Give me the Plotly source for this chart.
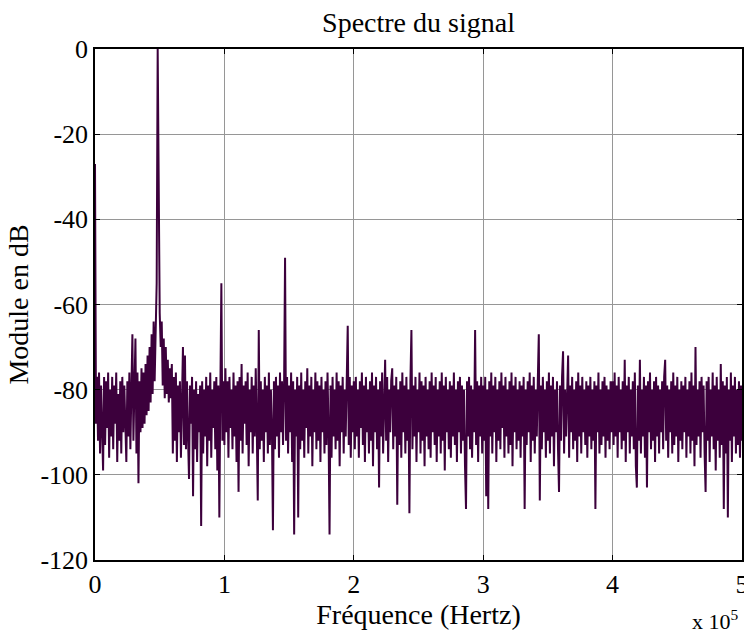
import numpy as np
import plotly.graph_objects as go

# FFT settings of the analysed signal
FS = 1.0e6          # sampling frequency (Hz)
NFFT = 1280         # FFT length -> bin spacing FS / NFFT

# Spectrum magnitude in dB, one list per 100 kHz band (bins 0-127, 128-255, ...)
band_0_100k = [
    -27, -88, -77, -92, -76, -95, -79, -90, -99, -77, -93, -78, -89, -76, -96, -80,
    -91, -77, -94, -79, -88, -76, -97, -81, -92, -78, -95, -77, -90, -79, -93, -97,
    -78, -91, -76, -94, -80, -67, -92, -77, -68, -95, -76, -102, -78, -90, -75, -89,
    -76, -88, -74, -86, -72, -85, -70, -83, -67, -81, -64, -78, -60, -55, 0, -48,
    -62, -70, -64, -79, -68, -82, -70, -81, -73, -83, -75, -82, -74, -95, -77, -92,
    -76, -97, -79, -90, -78, -96, -80, -70, -93, -72, -94, -78, -91, -101, -79, -88,
    -77, -105, -80, -94, -78, -97, -81, -90, -79, -112, -78, -95, -80, -91, -77, -98,
    -79, -92, -76, -96, -80, -89, -78, -94, -77, -99, -79, -110, -80, -55, -92, -78,
]
band_100_200k = [
    -93, -75, -90, -78, -96, -77, -89, -80, -94, -76, -91, -79, -97, -78, -104, -77,
    -92, -74, -95, -79, -88, -78, -93, -76, -98, -80, -90, -77, -95, -79, -91, -75,
    -89, -106, -66, -94, -78, -92, -80, -97, -77, -90, -79, -95, -76, -93, -80, -89,
    -113, -78, -94, -77, -91, -79, -96, -76, -90, -78, -93, -80, -49, -92, -77, -95,
    -79, -90, -76, -97, -78, -114, -80, -91, -77, -110, -79, -94, -76, -92, -80, -96,
    -78, -89, -75, -95, -79, -91, -77, -98, -80, -90, -76, -94, -78, -92, -79, -97,
    -77, -90, -80, -95, -78, -93, -76, -89, -114, -79, -96, -77, -91, -80, -94, -76,
    -92, -78, -98, -79, -90, -77, -95, -80, -91, -78, -65, -93, -77, -96, -79, -90,
]
band_200_300k = [
    -78, -94, -77, -91, -80, -96, -78, -89, -76, -93, -79, -97, -77, -90, -80, -95,
    -78, -92, -76, -98, -79, -90, -77, -94, -80, -103, -78, -91, -76, -95, -79, -73,
    -92, -77, -97, -80, -90, -78, -75, -94, -79, -91, -77, -107, -80, -93, -78, -96,
    -76, -90, -79, -95, -77, -92, -80, -109, -78, -66, -94, -79, -91, -77, -97, -80,
    -90, -76, -95, -78, -92, -79, -98, -77, -91, -80, -94, -78, -96, -76, -90, -79,
    -93, -77, -97, -80, -91, -78, -95, -76, -92, -79, -99, -77, -90, -80, -94, -78,
    -96, -79, -91, -76, -93, -80, -97, -78, -90, -77, -95, -79, -92, -80, -98, -108,
    -78, -91, -77, -94, -79, -96, -80, -90, -66, -93, -78, -97, -79, -91, -77, -95,
]
band_300_400k = [
    -79, -92, -77, -105, -80, -108, -78, -91, -76, -95, -79, -90, -77, -97, -80, -92,
    -78, -94, -76, -89, -79, -96, -77, -91, -80, -95, -78, -93, -76, -98, -79, -90,
    -77, -94, -80, -92, -78, -96, -79, -91, -77, -108, -80, -93, -78, -90, -76, -97,
    -79, -92, -77, -95, -80, -91, -78, -67, -106, -79, -94, -77, -90, -80, -96, -78,
    -92, -76, -95, -79, -91, -77, -98, -80, -90, -78, -94, -104, -79, -92, -77, -71,
    -95, -80, -91, -78, -72, -96, -79, -90, -77, -94, -80, -92, -78, -97, -76, -91,
    -79, -95, -77, -90, -80, -93, -78, -96, -79, -91, -77, -94, -80, -92, -78, -108,
    -79, -90, -76, -95, -80, -93, -78, -91, -77, -96, -79, -92, -80, -94, -78, -90,
]
band_400_500k = [
    -78, -93, -76, -91, -79, -96, -77, -90, -80, -94, -78, -92, -73, -97, -79, -90,
    -77, -95, -80, -91, -78, -94, -76, -98, -103, -79, -92, -73, -95, -80, -91, -77,
    -96, -79, -103, -78, -90, -76, -94, -80, -92, -78, -97, -77, -91, -79, -95, -80,
    -90, -78, -94, -77, -73, -92, -79, -96, -80, -90, -78, -95, -76, -93, -79, -91,
    -77, -97, -80, -92, -78, -94, -79, -90, -77, -96, -80, -91, -78, -95, -76, -92,
    -79, -98, -70, -93, -80, -91, -78, -96, -77, -90, -79, -95, -104, -78, -92, -77,
    -97, -80, -91, -76, -94, -79, -99, -77, -92, -80, -96, -74, -93, -78, -108, -79,
    -95, -77, -110, -80, -92, -76, -97, -79, -91, -77, -95, -80, -93, -78, -96, -79,
    -92,
]

x_tick_vals = [0, 1e5, 2e5, 3e5, 4e5, 5e5]
x_tick_text = ["0", "1", "2", "3", "4", "5"]
y_tick_vals = [-120, -100, -80, -60, -40, -20, 0]
y_tick_text = ["-120", "-100", "-80", "-60", "-40", "-20", "0"]

module_db = np.array(band_0_100k + band_100_200k + band_200_300k
                     + band_300_400k + band_400_500k, dtype=float)
freq = np.arange(module_db.size) * FS / NFFT

SERIF = "Liberation Serif, Times New Roman, serif"

fig = go.Figure()
fig.add_trace(go.Scatter(
    x=freq, y=module_db, mode="lines",
    line=dict(color="#3c003c", width=2),
    showlegend=False, hoverinfo="skip",
))

axis_common = dict(
    showline=True, linecolor="black", linewidth=1.5, mirror="ticks",
    ticks="inside", ticklen=5, tickcolor="black",
    showgrid=True, gridcolor="#969696", gridwidth=1,
    zeroline=False, ticklabeloverflow="allow", automargin=False,
    tickfont=dict(family=SERIF, size=26, color="black"),
)

fig.update_layout(
    width=744, height=634,
    margin=dict(l=95, r=2, t=49, b=74),
    paper_bgcolor="white", plot_bgcolor="white",
    title=dict(text="Spectre du signal", x=0.5625, xanchor="center",
               y=0.965, yanchor="middle",
               font=dict(family=SERIF, size=28, color="black")),
    xaxis=dict(range=[0, 5e5], tickvals=x_tick_vals, ticktext=x_tick_text,
               title=dict(text="Fréquence (Hertz)", standoff=2,
                          font=dict(family=SERIF, size=28, color="black")),
               **axis_common),
    yaxis=dict(range=[-120, 0], tickvals=y_tick_vals, ticktext=y_tick_text,
               title=dict(text="Module en dB", standoff=4,
                          font=dict(family=SERIF, size=28, color="black")),
               **axis_common),
    annotations=[dict(text="x 10<sup>5</sup>", xref="paper", yref="paper",
                      x=0.998, y=-0.118, xanchor="right", yanchor="middle",
                      showarrow=False,
                      font=dict(family=SERIF, size=22, color="black"))],
)

fig.write_html("out.html")
